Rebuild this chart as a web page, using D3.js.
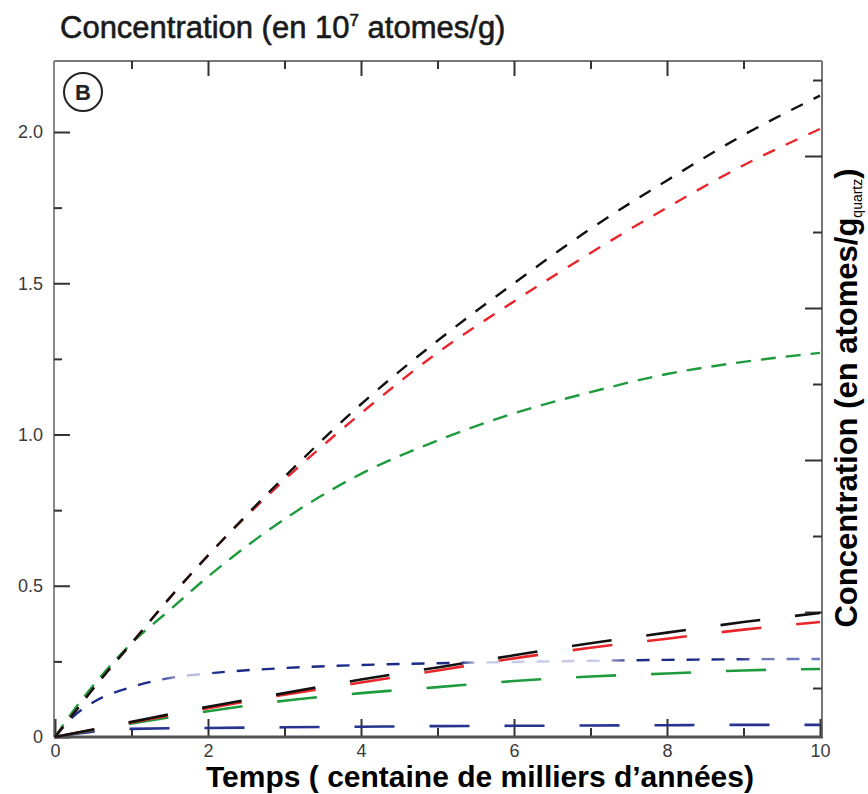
<!DOCTYPE html>
<html>
<head>
<meta charset="utf-8">
<script src="https://cdn.jsdelivr.net/npm/d3@7"></script>
<style>
html, body { margin: 0; padding: 0; background: #fff; }
svg { display: block; font-family: "Liberation Sans", Arial, sans-serif; }
</style>
</head>
<body>
<svg id="chart" width="868" height="794"></svg>
<script>
// ---------- data ----------
const timeSmooth = [0, 0.25, 0.5, 1, 1.5, 2, 3, 4, 5, 6, 7, 8, 9, 10];
const blackHigh = [0, 0.08, 0.16, 0.31, 0.46, 0.60, 0.86, 1.10, 1.31, 1.50, 1.68, 1.84, 1.99, 2.12];
const redHigh   = [0, 0.08, 0.16, 0.31, 0.46, 0.60, 0.85, 1.07, 1.27, 1.44, 1.60, 1.75, 1.89, 2.01];
const greenHigh = [0, 0.09, 0.17, 0.31, 0.42, 0.53, 0.72, 0.87, 0.98, 1.07, 1.14, 1.20, 1.24, 1.27];
const blueHigh  = [0, 0.07, 0.115, 0.165, 0.195, 0.21, 0.228, 0.238, 0.244, 0.248, 0.252, 0.255, 0.257, 0.258];

const timeSteps = [0, 1, 2, 3, 4, 5, 6, 7, 8, 9, 10];
const blackLow = [0, 0.05, 0.10, 0.145, 0.19, 0.23, 0.27, 0.31, 0.345, 0.38, 0.41];
const redLow   = [0, 0.048, 0.095, 0.14, 0.18, 0.22, 0.26, 0.295, 0.325, 0.355, 0.38];
const greenLow = [0, 0.045, 0.085, 0.12, 0.145, 0.165, 0.185, 0.20, 0.21, 0.22, 0.225];
const blueLow  = [0, 0.027, 0.03, 0.032, 0.034, 0.036, 0.037, 0.038, 0.039, 0.04, 0.04];

const xMajorTicks = [0, 2, 4, 6, 8, 10];
const xMinorTicks = [1, 3, 5, 7, 9];
const yMajorTicks = [0, 0.5, 1.0, 1.5, 2.0];
const yMinorTicks = [0.25, 0.75, 1.25, 1.75];
const rightMajorTicks = [0, 1, 2, 3];
const rightMinorTicks = [-0.5, 0.5, 1.5, 2.5, 3.5];

// ---------- layout ----------
const svg = d3.select("#chart");
const pL = 54, pR = 822, pT = 61, pB = 737;
const x = d3.scaleLinear().domain([0, 10]).range([55, 820]);
const y = d3.scaleLinear().domain([0, 2]).range([737, 132]);
const yr = d3.scaleLinear().domain([0, 3]).range([612, 156]);

// frame
svg.append("line").attr("x1", pL).attr("x2", pR).attr("y1", pT).attr("y2", pT)
  .attr("stroke", "#777").attr("stroke-width", 2);
svg.append("line").attr("x1", pR).attr("x2", pR).attr("y1", pT).attr("y2", pB)
  .attr("stroke", "#777").attr("stroke-width", 2);
svg.append("line").attr("x1", pL).attr("x2", pL).attr("y1", pT).attr("y2", pB)
  .attr("stroke", "#888").attr("stroke-width", 2);

function styleAxis(g) {
  g.select(".domain").remove();
  g.selectAll(".tick line").attr("stroke", "#333").attr("stroke-width", 2);
  g.selectAll(".tick text").attr("fill", "#3a3a3a").style("font-size", "18px")
    .style("font-family", "'Liberation Sans', Arial, sans-serif");
}

// bottom axis
svg.append("g").attr("transform", `translate(0,${pB})`)
  .call(d3.axisBottom(x).tickValues(xMajorTicks).tickSizeInner(-18).tickSizeOuter(0).tickPadding(7)
    .tickFormat(d3.format("d")))
  .call(styleAxis);
svg.append("g").attr("transform", `translate(0,${pB})`)
  .call(d3.axisBottom(x).tickValues(xMinorTicks).tickSizeInner(-9).tickSizeOuter(0).tickFormat(""))
  .call(styleAxis);
// top axis
svg.append("g").attr("transform", `translate(0,${pT})`)
  .call(d3.axisTop(x).tickValues(xMajorTicks.filter(d => d > 0 && d < 10)).tickSizeInner(-15).tickSizeOuter(0).tickFormat(""))
  .call(styleAxis);
svg.append("g").attr("transform", `translate(0,${pT})`)
  .call(d3.axisTop(x).tickValues(xMinorTicks).tickSizeInner(-8).tickSizeOuter(0).tickFormat(""))
  .call(styleAxis);
// left axis
svg.append("g").attr("transform", `translate(${pL},0)`)
  .call(d3.axisLeft(y).tickValues(yMajorTicks).tickSizeInner(-16).tickSizeOuter(0).tickPadding(11)
    .tickFormat(d => d === 0 ? "0" : d3.format(".1f")(d)))
  .call(styleAxis);
svg.append("g").attr("transform", `translate(${pL},0)`)
  .call(d3.axisLeft(y).tickValues(yMinorTicks).tickSizeInner(-8).tickSizeOuter(0).tickFormat(""))
  .call(styleAxis);
// right axis (unlabelled secondary scale)
svg.append("g").attr("transform", `translate(${pR},0)`)
  .call(d3.axisRight(yr).tickValues(rightMajorTicks).tickSizeInner(-17).tickSizeOuter(0).tickFormat(""))
  .call(styleAxis);
svg.append("g").attr("transform", `translate(${pR},0)`)
  .call(d3.axisRight(yr).tickValues(rightMinorTicks).tickSizeInner(-9).tickSizeOuter(0).tickFormat(""))
  .call(styleAxis);

// bottom axis line drawn on top
svg.append("line").attr("x1", pL).attr("x2", pR + 1).attr("y1", pB).attr("y2", pB)
  .attr("stroke", "#555").attr("stroke-width", 3);

// ---------- series ----------
const line = d3.line().x(d => x(d[0])).y(d => y(d[1])).curve(d3.curveMonotoneX);

// blue gradient to mimic faded parts
const defs = svg.append("defs");
const grad = defs.append("linearGradient").attr("id", "blueFade")
  .attr("gradientUnits", "userSpaceOnUse")
  .attr("x1", x(0)).attr("x2", x(10)).attr("y1", 0).attr("y2", 0);
[[0, "#1c2a88"], [1.3, "#1c2a88"], [1.5, "#6c76b8"], [1.75, "#b9bedf"], [1.95, "#b9bedf"], [2.1, "#1c2a88"],
 [5.3, "#1c2a88"], [5.5, "#c7cbe6"], [7.2, "#c7cbe6"], [7.5, "#1c2a88"], [8.9, "#1c2a88"], [9.2, "#6f79bd"], [10, "#6f79bd"]]
  .forEach(s => grad.append("stop").attr("offset", s[0] / 10).attr("stop-color", s[1]));

const lowSeries = [
  { v: blueLow,  c: "#26338f" },
  { v: greenLow, c: "#1e9b3c" },
  { v: redLow,   c: "#e8262b" },
  { v: blackLow, c: "#111111" }
];
lowSeries.forEach(s => {
  svg.append("path").datum(timeSteps.map((t, i) => [t, s.v[i]]))
    .attr("d", line).attr("fill", "none").attr("stroke", s.c)
    .attr("stroke-width", 2.6).attr("stroke-dasharray", "40 35");
});

const highSeries = [
  { v: blueHigh,  c: "url(#blueFade)", dash: "13 12" },
  { v: greenHigh, c: "#1e9b3c", dash: "15 10" },
  { v: redHigh,   c: "#e8262b", dash: "13 12" },
  { v: blackHigh, c: "#111111", dash: "13 12" }
];
highSeries.forEach(s => {
  svg.append("path").datum(timeSmooth.map((t, i) => [t, s.v[i]]))
    .attr("d", line).attr("fill", "none").attr("stroke", s.c)
    .attr("stroke-width", 2.4).attr("stroke-dasharray", s.dash);
});

// ---------- annotations ----------
svg.append("circle").attr("cx", 83).attr("cy", 92).attr("r", 19)
  .attr("fill", "none").attr("stroke", "#222").attr("stroke-width", 2);
svg.append("text").attr("x", 83).attr("y", 100).attr("text-anchor", "middle")
  .style("font-size", "22px").style("font-weight", "bold").attr("fill", "#222").text("B");

const title = svg.append("text").attr("x", 60).attr("y", 38)
  .style("font-size", "31px").attr("fill", "#1a1a1a")
  .attr("stroke", "#1a1a1a").attr("stroke-width", 0.6);
title.append("tspan").text("Concentration (en 10");
title.append("tspan").attr("dy", -12).style("font-size", "17px").text("7");
title.append("tspan").attr("dy", 12).text(" atomes/g)");

svg.append("text").attr("x", 480).attr("y", 787).attr("text-anchor", "middle")
  .style("font-size", "30px").style("font-weight", "bold").attr("fill", "#000")
  .text("Temps ( centaine de milliers d\u2019ann\u00e9es)");

const rl = svg.append("text").attr("transform", "translate(857,398) rotate(-90)")
  .attr("text-anchor", "middle").style("font-size", "31px").style("font-weight", "bold").attr("fill", "#000");
rl.append("tspan").text("Concentration (en atomes/g");
rl.append("tspan").attr("dy", 5).style("font-size", "14px").style("font-weight", "normal").text("quartz");
rl.append("tspan").attr("dy", -5).text(")");
</script>
</body>
</html>
